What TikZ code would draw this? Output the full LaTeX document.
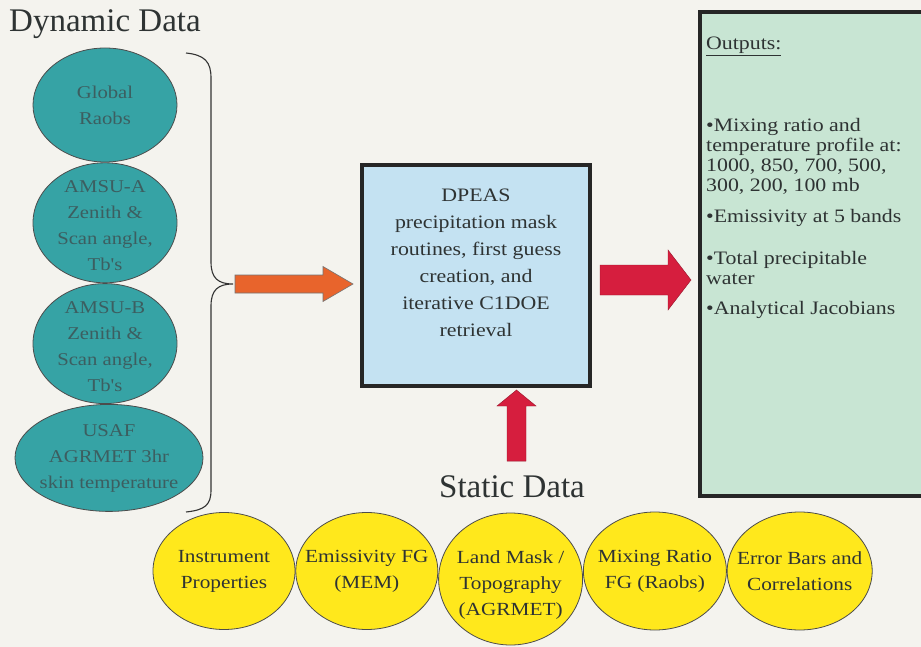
\documentclass[tikz,border=0pt]{standalone}
\usepackage{fontspec}
\setmainfont{Liberation Serif}
\newfontfamily\wideserif[FakeStretch=1.15]{Liberation Serif}
\usepackage{tikz}
\usetikzlibrary{shapes.geometric,positioning,calc}
\definecolor{paperWhite}{HTML}{F4F3EE}
\definecolor{raobTeal}{HTML}{36A3A5}
\definecolor{tealInk}{HTML}{3C5E60}
\definecolor{staticYellow}{HTML}{FFE81C}
\definecolor{dpeasBlue}{HTML}{C4E2F2}
\definecolor{outputGreen}{HTML}{C8E5D3}
\definecolor{arrowOrange}{HTML}{E8642C}
\definecolor{arrowRed}{HTML}{D61E3E}
\definecolor{inkGray}{HTML}{2E3333}
\tikzstyle{title} = [text=inkGray, inner sep=2pt, font=\fontsize{33}{36}\selectfont]
\tikzstyle{tealBall} = [ellipse, draw=black!70, line width=0.8pt, fill=raobTeal, inner sep=0pt]
\tikzstyle{tealText} = [text=tealInk, align=center, font=\wideserif\fontsize{18}{26}\selectfont]
\tikzstyle{yellowBall} = [ellipse, draw=black!70, line width=0.8pt, fill=staticYellow, inner sep=0pt]
\tikzstyle{yellowText} = [text=inkGray, align=center, font=\wideserif\fontsize{18.5}{26}\selectfont]
\tikzstyle{dpeasBox} = [rectangle, draw=black!85, line width=4pt, fill=dpeasBlue]
\tikzstyle{outBox} = [rectangle, draw=black!85, line width=4pt, fill=outputGreen]
\tikzstyle{boxText} = [text=inkGray, align=center, font=\wideserif\fontsize{19}{27}\selectfont]
\tikzstyle{outText} = [text=inkGray, align=left, inner sep=0pt, font=\wideserif\fontsize{19}{20}\selectfont]
\tikzstyle{brace} = [draw=black!80, line width=1.1pt]
\tikzstyle{orangeArrow} = [draw=black!55, line width=0.6pt, fill=arrowOrange, line join=miter]
\tikzstyle{redArrow} = [draw=arrowRed!70!black, line width=0.4pt, fill=arrowRed, line join=miter]

\begin{document}
\begin{tikzpicture}[x=1pt, y=-1pt]
    \useasboundingbox (0,0) rectangle (921,647);
    \clip (0,0) rectangle (921,647);
    \fill[paperWhite] (0,0) rectangle (921,647);

    % dynamic inputs
    \node (dynTitle) [title] at (105,24) {Dynamic Data};
    \node (raobs) [tealBall, minimum width=144pt, minimum height=114pt] at (105,105) {};
    \node (amsuA) [tealBall, minimum width=144pt, minimum height=120pt, below=0pt of raobs] {};
    \node (amsuB) [tealBall, minimum width=144pt, minimum height=120pt, below=0pt of amsuA] {};
    \node (agrmet) [tealBall, minimum width=188pt, minimum height=107pt, below=0pt of amsuB, xshift=4pt] {};
    \node [tealText] at (raobs) {Global\\Raobs};
    \node [tealText] at ($(amsuA)+(0,3)$) {AMSU-A\\Zenith \&\\Scan angle,\\Tb's};
    \node [tealText] at ($(amsuB)+(0,3)$) {AMSU-B\\Zenith \&\\Scan angle,\\Tb's};
    \node [tealText] at ($(agrmet)+(0,1)$) {USAF\\AGRMET 3hr\\skin temperature};

    % brace gathering the dynamic inputs
    \coordinate (braceTip) at (233,284);
    \draw[brace] (186,53) .. controls (205,55) and (211,62) .. (211,78) -- (211,262)
        .. controls (211,278) and (218,284) .. (braceTip)
        .. controls (218,284) and (211,290) .. (211,306) -- (211,490)
        .. controls (211,505) and (205,510) .. (186,512);

    % retrieval and outputs
    \node (dpeas) [dpeasBox, minimum width=228pt, minimum height=221pt] at (476,275.5) {};
    \node [boxText] at ($(dpeas)+(0,-13)$) {DPEAS\\precipitation mask\\routines, first guess\\creation, and\\iterative C1DOE\\retrieval};
    \node (outputs) [outBox, minimum width=235pt, minimum height=484pt] at (817.5,254) {};
    \node (outList) [outText, anchor=north west] at (706,37) {\underline{Outputs:}\\[62pt]
        •Mixing ratio and\\temperature profile at:\\1000, 850, 700, 500,\\300, 200, 100 mb\\[11pt]
        •Emissivity at 5 bands\\[22pt]
        •Total precipitable\\water\\[10pt]
        •Analytical Jacobians};

    % static inputs
    \node (staticData) [title] at (512,487) {Static Data};
    \node (instr) [yellowBall, minimum width=142pt, minimum height=117pt] at (224,571) {};
    \node (emiss) [yellowBall, minimum width=142pt, minimum height=117pt, right=0pt of instr] {};
    \node (land) [yellowBall, minimum width=144pt, minimum height=132pt, right=0pt of emiss, yshift=-8pt] {};
    \node (mixing) [yellowBall, minimum width=143pt, minimum height=118pt, right=0pt of land, yshift=8pt] {};
    \node (errors) [yellowBall, minimum width=145pt, minimum height=118pt, right=0pt of mixing] {};
    \node [yellowText] at (instr) {Instrument\\Properties};
    \node [yellowText] at (emiss) {Emissivity FG\\(MEM)};
    \node [yellowText] at ($(land)+(0,6)$) {Land Mask /\\Topography\\(AGRMET)};
    \node [yellowText] at (mixing) {Mixing Ratio\\FG (Raobs)};
    \node [yellowText] at (errors) {Error Bars and\\Correlations};

    % block arrows
    \draw[orangeArrow] ($(braceTip)+(2,-9)$) -- ($(dpeas.west)+(-37,-0.5)$) -- ($(dpeas.west)+(-37,-9)$)
        -- ($(dpeas.west)+(-7,8.5)$) -- ($(dpeas.west)+(-37,26)$) -- ($(dpeas.west)+(-37,17.5)$)
        -- ($(braceTip)+(2,9)$) -- cycle;
    \draw[redArrow] ($(dpeas.east)+(8,-10.5)$) -- ($(outputs.west)+(-30,11)$) -- ($(outputs.west)+(-30,-4)$)
        -- ($(outputs.west)+(-7,26)$) -- ($(outputs.west)+(-30,56)$) -- ($(outputs.west)+(-30,41)$)
        -- ($(dpeas.east)+(8,19.5)$) -- cycle;
    \draw[redArrow] ($(staticData.north)+(-5,-12.6)$) -- ($(dpeas.south)+(31,18)$) -- ($(dpeas.south)+(21,18)$)
        -- ($(dpeas.south)+(40.5,2)$) -- ($(dpeas.south)+(60,18)$) -- ($(dpeas.south)+(50,18)$)
        -- ($(staticData.north)+(14,-12.6)$) -- cycle;
\end{tikzpicture}
\end{document}
